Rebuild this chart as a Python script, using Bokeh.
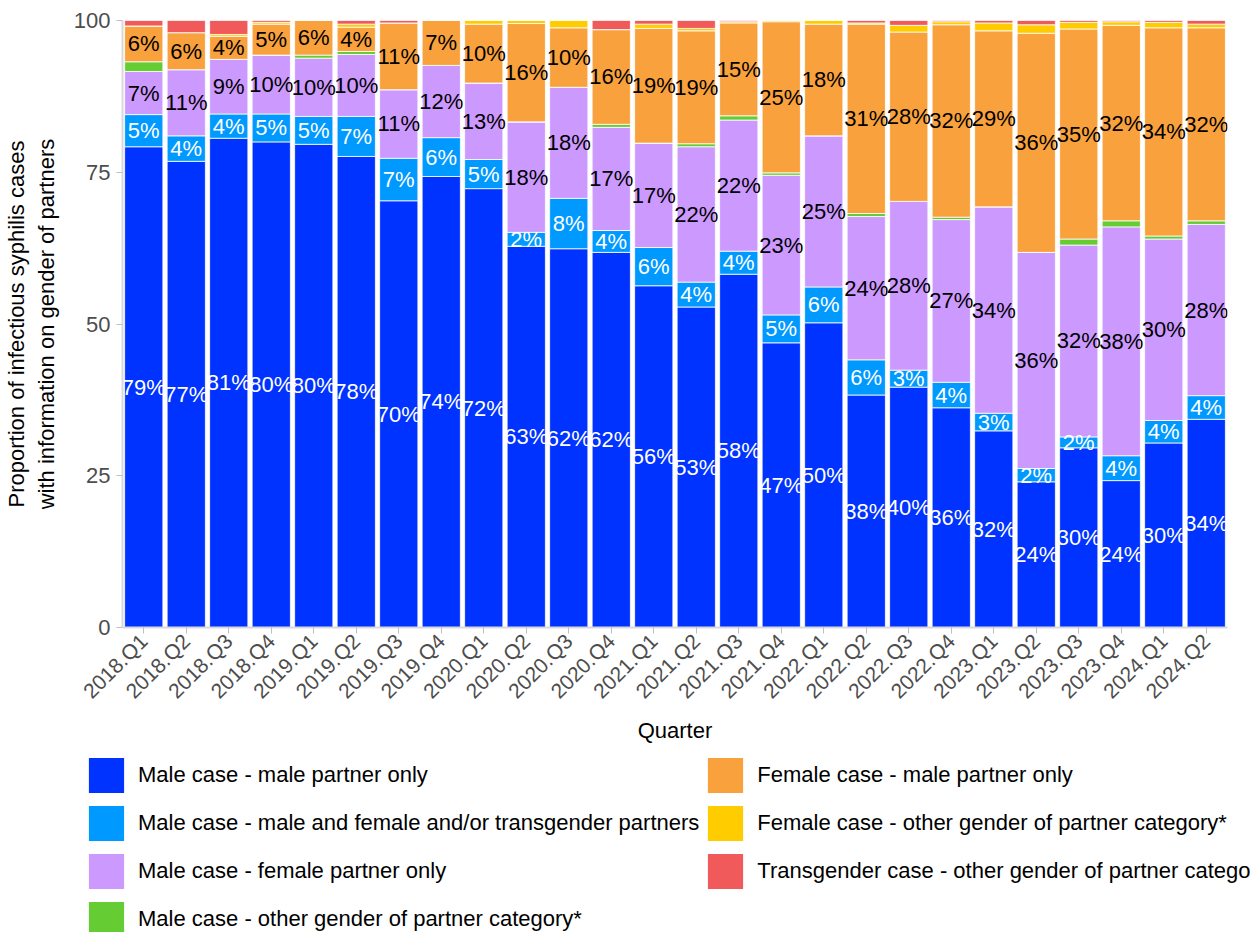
import math
from bokeh.plotting import figure
from bokeh.layouts import column, row
from bokeh.models import ColumnDataSource, FactorRange, FixedTicker, Legend, LegendItem, Range1d
from bokeh.embed import file_html
from bokeh.resources import INLINE
from bokeh.core.properties import value

quarters = ["2018.Q1", "2018.Q2", "2018.Q3", "2018.Q4", "2019.Q1", "2019.Q2", "2019.Q3", "2019.Q4",
            "2020.Q1", "2020.Q2", "2020.Q3", "2020.Q4", "2021.Q1", "2021.Q2", "2021.Q3", "2021.Q4",
            "2022.Q1", "2022.Q2", "2022.Q3", "2022.Q4", "2023.Q1", "2023.Q2", "2023.Q3", "2023.Q4",
            "2024.Q1", "2024.Q2"]

male_male = [79.2, 76.8, 80.6, 80.0, 79.6, 77.6, 70.3, 74.3, 72.3, 62.8, 62.4, 61.8, 56.3, 52.8, 58.2, 46.9,
             50.2, 38.3, 39.6, 36.2, 32.4, 24.0, 29.6, 24.2, 30.4, 34.3]
male_mixed = [5.3, 4.2, 4.0, 4.6, 4.6, 6.6, 7.0, 6.4, 4.8, 2.3, 8.3, 3.6, 6.3, 4.1, 3.8, 4.6,
              5.9, 5.8, 2.8, 4.2, 2.9, 2.2, 1.8, 4.1, 3.7, 3.9]
male_female = [7.1, 10.9, 9.0, 9.7, 9.6, 10.2, 11.3, 11.9, 12.6, 18.2, 18.3, 17.0, 17.2, 22.3, 21.6, 23.0,
               24.9, 23.6, 27.8, 26.8, 34.0, 35.6, 31.6, 37.7, 29.9, 28.2]
male_other = [1.6, 0.0, 0.0, 0.0, 0.5, 0.5, 0.0, 0.0, 0.0, 0.0, 0.0, 0.5, 0.0, 0.5, 0.7, 0.4,
              0.0, 0.5, 0.0, 0.4, 0.0, 0.0, 1.0, 1.0, 0.5, 0.6]
female_male = [5.9, 6.1, 3.8, 5.1, 5.7, 4.0, 11.0, 7.4, 9.7, 16.2, 9.8, 15.6, 18.9, 18.6, 15.3, 24.9,
               18.4, 31.2, 27.9, 31.7, 29.0, 36.1, 34.6, 32.2, 34.3, 31.8]
female_other = [0.0, 0.0, 0.3, 0.3, 0.0, 0.5, 0.0, 0.0, 0.6, 0.5, 1.2, 0.0, 0.7, 0.4, 0.2, 0.2,
                0.6, 0.2, 1.1, 0.5, 1.3, 1.4, 1.1, 0.6, 0.9, 0.6]
trans_other = [0.9, 2.0, 2.3, 0.3, 0.0, 0.6, 0.4, 0.0, 0.0, 0.0, 0.0, 1.5, 0.6, 1.3, 0.2, 0.0,
               0.0, 0.4, 0.8, 0.2, 0.4, 0.7, 0.3, 0.2, 0.3, 0.6]

series_keys = ["male_male", "male_mixed", "male_female", "male_other",
               "female_male", "female_other", "trans_other"]
series_names = ["Male case - male partner only",
                "Male case - male and female and/or transgender partners",
                "Male case - female partner only",
                "Male case - other gender of partner category*",
                "Female case - male partner only",
                "Female case - other gender of partner category*",
                "Transgender case - other gender of partner category*"]
colors = ["#0033FF", "#0099FF", "#CC99FF", "#66CC33", "#F9A13C", "#FFCC00", "#F15A5A"]
labelled = {"male_male": "white", "male_mixed": "white", "male_female": "black", "female_male": "black"}

data = {"quarter": quarters, "male_male": male_male, "male_mixed": male_mixed,
        "male_female": male_female, "male_other": male_other, "female_male": female_male,
        "female_other": female_other, "trans_other": trans_other}
src = ColumnDataSource(data)

FONT = "Liberation Sans"
W = 1250

p = figure(x_range=FactorRange(factors=quarters, range_padding=0), y_range=(0, 100),
           width=W, height=745,
           min_border_left=122, min_border_right=W - 122 - 1105, min_border_top=20,
           min_border_bottom=115,
           output_backend="svg", toolbar_location=None, tools="")

renderers = p.vbar_stack(series_keys, x="quarter", width=0.9, color=colors, source=src,
                         line_color="white", line_width=0.8)

# labels at segment midpoints
bottom = [0.0] * len(quarters)
for key in series_keys:
    vals = data[key]
    if key in labelled:
        mids = [b + v / 2 for b, v in zip(bottom, vals)]
        txt = [f"{round(v)}%" for v in vals]
        p.text(x=quarters, y=mids, text=txt, text_align="center", text_baseline="middle",
               text_color=labelled[key], text_font=value(FONT), text_font_size="22px")
    bottom = [b + v for b, v in zip(bottom, vals)]

p.xgrid.visible = False
p.ygrid.visible = False
p.outline_line_color = None
p.background_fill_color = "white"

p.yaxis.ticker = FixedTicker(ticks=[0, 25, 50, 75, 100])
p.yaxis.axis_label = "Proportion of infectious syphilis cases\nwith information on gender of partners"
p.xaxis.axis_label = "Quarter"
for ax in (p.xaxis, p.yaxis):
    ax.axis_line_color = "#d9d9d9"
    ax.axis_line_width = 2
    ax.major_tick_line_color = "#bfbfbf"
    ax.major_tick_in = 0
    ax.major_tick_out = 6
    ax.minor_tick_line_color = None
    ax.major_label_text_color = "#4d4d4d"
    ax.major_label_text_font = FONT
    ax.axis_label_text_font = FONT
    ax.axis_label_text_font_style = "normal"
    ax.axis_label_text_color = "black"
    ax.axis_label_text_font_size = "22px"
p.yaxis.major_label_text_font_size = "22px"
p.yaxis.major_label_standoff = 6
p.yaxis.axis_label_standoff = 12
p.xaxis.major_label_text_font_size = "21px"
p.xaxis.major_label_orientation = math.pi / 4
p.xaxis.major_label_standoff = 4
p.xaxis.axis_label_standoff = 4

# legend panel below the chart (glyph renderers hold one bar outside the visible range)
lf = figure(width=W, height=932 - 745, x_range=Range1d(0, 1), y_range=Range1d(0, 1),
            min_border_left=0, min_border_right=0, min_border_top=0, min_border_bottom=0,
            x_axis_location=None, y_axis_location=None,
            output_backend="svg", toolbar_location=None, tools="")
lf.xgrid.visible = False
lf.ygrid.visible = False
lf.outline_line_color = None
legend_renderers = [lf.vbar(x=[5], top=[1], width=0.9, color=c, line_color=None)
                    for c in colors]
legend = Legend(items=[LegendItem(label=n, renderers=[r]) for n, r in zip(series_names, legend_renderers)],
                location=(84, -9), nrows=4, orientation="vertical",
                glyph_width=44, glyph_height=44, label_standoff=10, spacing=4,
                padding=0, margin=0, border_line_color=None, background_fill_alpha=0,
                label_text_font=FONT, label_text_font_size="22px", label_height=44,
                label_text_color="black")
lf.add_layout(legend, "center")

layout = column(p, row(lf), spacing=0)
open("out.html", "w").write(file_html(layout, INLINE))
